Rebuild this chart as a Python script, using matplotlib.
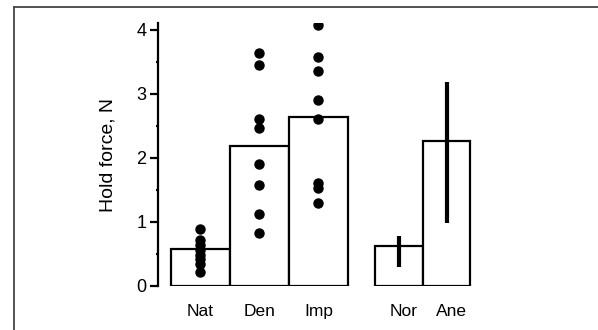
import matplotlib
matplotlib.use("Agg")
import matplotlib.pyplot as plt
from matplotlib.lines import Line2D
from matplotlib.ticker import MultipleLocator

plt.rcParams['font.family'] = ['Liberation Sans', 'DejaVu Sans']

# Left group: individual points + mean bars
groups = ["Nat", "Den", "Imp"]
means = [0.58, 2.19, 2.63]
points = {
    "Nat": [0.89, 0.72, 0.64, 0.56, 0.49, 0.42, 0.34, 0.22],
    "Den": [3.63, 3.45, 2.61, 2.47, 1.90, 1.57, 1.13, 0.83],
    "Imp": [4.07, 3.58, 3.36, 2.90, 2.60, 1.61, 1.53, 1.29],
}
# Right group: bars with error ranges
groups2 = ["Nor", "Ane"]
means2 = [0.63, 2.27]
err_low = [0.29, 0.99]
err_high = [0.78, 3.18]

W, H = 598, 330
fig = plt.figure(figsize=(W / 100, H / 100), dpi=100)

# figure frame (top and left lines)
fig.add_artist(Line2D([14 / W, 1.0], [1 - 7 / H, 1 - 7 / H], color="#444444", lw=1.3))
fig.add_artist(Line2D([14 / W, 14 / W], [0, 1 - 7 / H], color="#444444", lw=1.3))

ax_l, ax_r = 158 / W, 590 / W
ax_b, ax_t = (H - 286) / H, (H - 23.3) / H
ax = fig.add_axes([ax_l, ax_b, ax_r - ax_l, ax_t - ax_b])

x1 = [0, 1, 2]
ax.bar(x1, means, width=1.0, facecolor="white", edgecolor="black", linewidth=1.6, zorder=2)
for xi, g in zip(x1, groups):
    ys = points[g]
    ax.plot([xi] * len(ys), ys, "o", color="black", markersize=6.5, zorder=3)

x2 = [3.36, 4.17]
ax.bar(x2, means2, width=0.81, facecolor="white", edgecolor="black", linewidth=1.6, zorder=2)
for xi, lo, hi in zip(x2, err_low, err_high):
    ax.plot([xi, xi], [lo, hi], color="black", lw=3, solid_capstyle="butt", zorder=3)

ax.set_xlim(-0.72, (590 - 200.5) / 59)
ax.set_ylim(0, 4.1)

for s in ["top", "right", "bottom"]:
    ax.spines[s].set_visible(False)
ax.spines["left"].set_linewidth(1.6)
ax.spines["left"].set_bounds(0, 4.1)

ax.set_yticks([0, 1, 2, 3, 4])
ax.yaxis.set_minor_locator(MultipleLocator(0.5))
ax.tick_params(axis="y", which="major", direction="out", length=5.5, width=1.6, labelsize=13, pad=3)
ax.tick_params(axis="y", which="minor", direction="out", length=1.5, width=1.6)
ax.set_xticks(x1 + [x2[0] + 0.09, x2[1] + 0.08])
ax.set_xticklabels(groups + groups2)
ax.tick_params(axis="x", length=0, labelsize=12.5, pad=13)
ax.set_ylabel("Hold force, N", fontsize=14, labelpad=14)

fig.savefig("out.png", dpi=100)
